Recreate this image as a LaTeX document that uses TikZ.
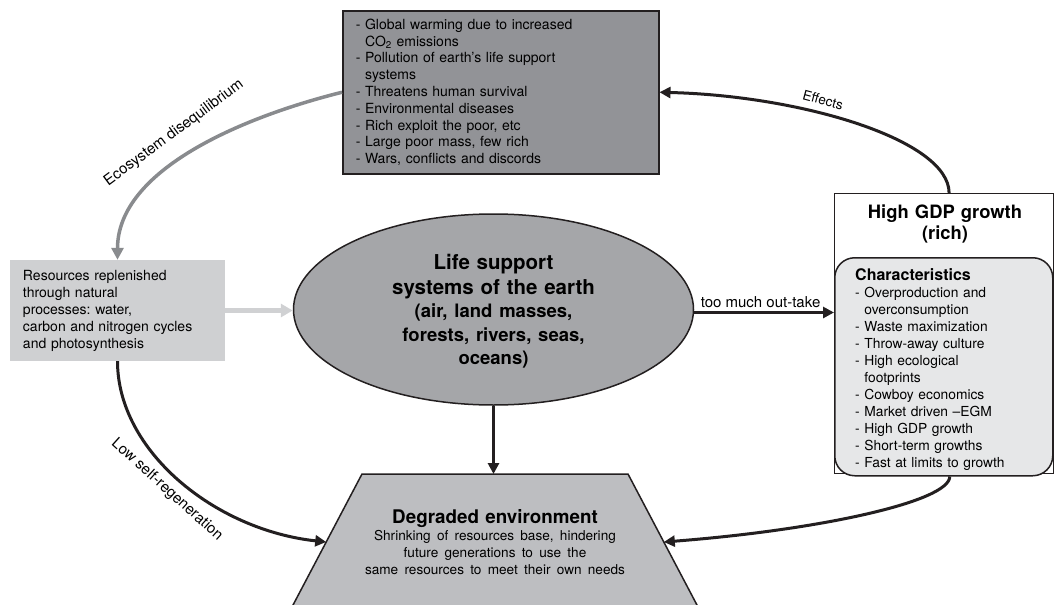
\documentclass[tikz,border=0pt]{standalone}
\usepackage{fontspec}
\setmainfont{TeX Gyre Heros}
\usetikzlibrary{arrows.meta,shapes.geometric}
\definecolor{linec}{RGB}{35,31,32}
\definecolor{topfill}{RGB}{146,147,151}
\definecolor{ellfill}{RGB}{165,166,169}
\definecolor{resfill}{RGB}{207,208,210}
\definecolor{degfill}{RGB}{189,190,193}
\definecolor{charfill}{RGB}{230,231,232}
\definecolor{arcgray}{RGB}{137,139,142}
\definecolor{lightarrow}{RGB}{208,209,211}
\newcommand\setfs[2]{\fontsize{#1}{#2}\selectfont}
\frenchspacing
\begin{document}
\begin{tikzpicture}[x=1pt,y=-1pt,
  conn/.style={draw=linec, line width=3pt, -{Triangle[length=11pt,width=11pt]}},
  grayconn/.style={draw=arcgray, line width=3.5pt, -{Triangle[length=12pt,width=12pt]}},
  lightconn/.style={draw=lightarrow, line width=4.5pt, -{Triangle[length=12pt,width=13pt]}},
  boxline/.style={draw=linec, line width=1.5pt},
  bodytext/.style={font=\setfs{14}{16.8}},
  lbl/.style={font=\setfs{15}{17}, inner sep=0}
]
\useasboundingbox (0,0) rectangle (1055,605);
\fill[white] (0,0) rectangle (1055,605);

% top box
\node[boxline, fill=topfill, anchor=north west, minimum width=316, minimum height=163,
      text width=290, inner xsep=13, inner ysep=0, align=left, bodytext] (top) at (342,10)
 {- Global warming due to increased\\\hphantom{- }CO\textsubscript{2} emissions\\- Pollution of earth’s life support\\\hphantom{- }systems\\- Threatens human survival\\- Environmental diseases\\- Rich exploit the poor, etc\\- Large poor mass, few rich\\- Wars, conflicts and discords};

% left box
\node[fill=resfill, minimum width=215, minimum height=101, text width=189, inner xsep=13,
      inner ysep=0, align=left, font=\setfs{14}{17}] (res) at (117.5,310.5)
 {Resources replenished\\through natural\\processes: water,\\carbon and nitrogen cycles\\and photosynthesis};

% ellipse
\node[ellipse, boxline, fill=ellfill, minimum width=400, minimum height=191, inner sep=0] (ell) at (493.5,309.5) {};
\node[text width=320, align=center, inner sep=0, anchor=north, font=\bfseries\setfs{20.5}{24.5}] (ellt) at (493.5,254.5)
 {Life support\par systems of the earth\par \setfs{18.5}{23.5}(air, land masses,\par forests, rivers, seas,\par oceans)\par};

% degraded environment (trapezoid)
\coordinate (degtl) at (362,474);
\coordinate (degtr) at (628,474);
\coordinate (degbr) at (699.6,610);
\coordinate (degbl) at (290.4,610);
\coordinate (degn) at (495,474);
\coordinate (degw) at (326.2,542);
\coordinate (dege) at (663.8,542);
\draw[boxline, fill=degfill] (degtl) -- (degtr) -- (degbr) -- (degbl) -- cycle;
\node[text width=380, align=center, inner sep=0, anchor=north, font=\bfseries\setfs{18.8}{17}] (degt) at (495,509.3)
 {Degraded environment\par \mdseries\setfs{13.6}{17}Shrinking of resources base, hindering\\future generations to use the\\same resources to meet their own needs\par};

% right box
\node[draw=linec, line width=1.2pt, fill=white, anchor=north west, minimum width=219, minimum height=280, inner sep=0] (gdp) at (834,193) {};
\node[text width=210, align=center, inner sep=0, anchor=north, font=\bfseries\setfs{18.4}{21}] (gdpt) at (945,204.8)
 {High GDP growth\\(rich)};
\node[boxline, fill=charfill, rounded corners=20pt, anchor=north west, minimum width=218, minimum height=218, inner sep=0] (chars) at (834,257) {};
\node[text width=190, align=left, inner sep=0, anchor=north west, font=\setfs{13.8}{17}] (charst) at (855,268.5)
 {{\bfseries\setfs{16}{17}Characteristics\par}
  - Overproduction and\\\hphantom{- }overconsumption\\- Waste maximization\\- Throw-away culture\\- High ecological\\\hphantom{- }footprints\\- Cowboy economics\\- Market driven --EGM\\- High GDP growth\\- Short-term growths\\- Fast at limits to growth\par};

% connectors
\draw[conn] (ell.south) -- (ell.south |- degn);
\draw[conn] ([yshift=-3pt]ell.east) -- ([yshift=-3pt]ell.east -| gdp.west)
  node[pos=0, anchor=base west, xshift=5pt, yshift=5pt, font=\setfs{15}{17}, inner sep=0] (otl) {too much out-take};
\draw[lightconn] (res.east) -- (res.east -| ell.west);
\draw[grayconn] (top.west) .. controls +(-100,25) and +(0,-90) .. (res.north);
\draw[conn] ([xshift=5pt]gdp.north) .. controls +(0,-53) and +(142,3.5) .. (top.east);
\draw[conn] (res.south) .. controls +(0,90) and +(-111,-12) .. (degw);
\draw[conn] ([xshift=6pt]chars.south) .. controls +(0,25) and +(156,-12) .. (dege);

% labels
\node[lbl, rotate=36.5] (ecol) at (174,133) {Ecosystem disequilibrium};
\node[lbl, font=\setfs{13.5}{15}, rotate=-15] (effl) at (823,100) {Effects};
\node[lbl, rotate=-42] (lowl) at (167,490) {Low self-regeneration};
\end{tikzpicture}
\end{document}
